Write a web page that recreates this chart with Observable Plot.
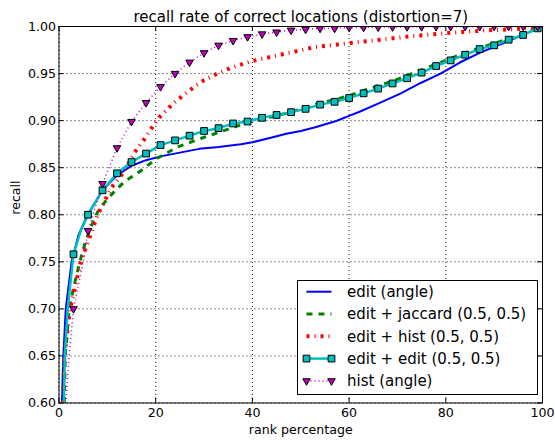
<!DOCTYPE html>
<html><head><meta charset="utf-8">
<script src="https://cdn.jsdelivr.net/npm/d3@7"></script>
<script src="https://cdn.jsdelivr.net/npm/@observablehq/plot@0.6"></script>
<style>
body{margin:0;background:#fff;}
#chart{width:555px;height:441px;}
</style></head><body><div id="chart"></div>
<script>
const title = "recall rate of correct locations (distortion=7)";
const xLabel = "rank percentage";
const yLabel = "recall";
const xTicks = [0, 20, 40, 60, 80, 100];
const yTicks = [0.60, 0.65, 0.70, 0.75, 0.80, 0.85, 0.90, 0.95, 1.00];

const seriesNames = ["edit (angle)", "edit + jaccard (0.5, 0.5)", "edit + hist (0.5, 0.5)", "edit + edit (0.5, 0.5)", "hist (angle)"];

const editAngleX = [0.6, 0.9, 1.4, 2.6, 4, 5.9, 9, 12, 15, 18, 21, 25, 29, 33, 37.6, 40, 44, 47, 50, 53, 57, 58.5, 60, 62.4, 66, 70.7, 74.8, 78.9, 83, 87, 91.3, 95.5, 100];
const editAngleY = [0.600, 0.650, 0.700, 0.750, 0.778, 0.800, 0.826, 0.842, 0.852, 0.858, 0.862, 0.866, 0.870, 0.872, 0.875, 0.877, 0.882, 0.886, 0.889, 0.893, 0.899, 0.902, 0.905, 0.910, 0.918, 0.929, 0.940, 0.950, 0.962, 0.972, 0.981, 0.990, 1.000];

const jaccardX = [1.1, 1.3, 2.1, 3, 4.3, 5.5, 7, 8, 10, 13.5, 17, 20, 24.5, 29.3, 35, 39.7, 44, 48, 51, 54, 57.6, 60.3, 63, 66, 69, 72, 75, 78, 81, 84, 87, 90, 93, 96, 100];
const jaccardY = [0.600, 0.650, 0.700, 0.722, 0.750, 0.772, 0.792, 0.803, 0.817, 0.835, 0.847, 0.859, 0.872, 0.881, 0.891, 0.899, 0.904, 0.909, 0.914, 0.9186, 0.923, 0.927, 0.932, 0.937, 0.942, 0.948, 0.954, 0.960, 0.966, 0.972, 0.977, 0.982, 0.987, 0.992, 1.000];

const histMixX = [0.8, 1.1, 2.3, 4.5, 8, 9.5, 10.7, 13.5, 15.6, 17.6, 19.4, 21, 23.8, 26, 28, 30, 32.8, 35.5, 39.7, 44.5, 47.6, 52.7, 59.5, 66.5, 73.4, 80.3, 88.6, 94, 98.2, 100];
const histMixY = [0.600, 0.650, 0.700, 0.750, 0.800, 0.815, 0.828, 0.846, 0.866, 0.880, 0.894, 0.905, 0.919, 0.928, 0.936, 0.943, 0.950, 0.956, 0.963, 0.9685, 0.972, 0.978, 0.982, 0.986, 0.990, 0.993, 0.996, 0.997, 0.999, 1.000];

const editEditX = [1.0, 1.2, 1.8, 3, 4.5, 6, 9, 12, 15, 18, 21, 24, 27, 30, 33, 36, 39, 42, 45, 48, 51, 54, 57, 60, 63, 66, 69, 72, 75, 78, 81, 84, 87, 90, 93, 96, 99, 100];
const editEditY = [0.600, 0.650, 0.700, 0.758, 0.783, 0.800, 0.826, 0.844, 0.856, 0.865, 0.874, 0.879, 0.884, 0.889, 0.892, 0.897, 0.899, 0.903, 0.906, 0.909, 0.9125, 0.917, 0.920, 0.924, 0.929, 0.934, 0.9395, 0.945, 0.951, 0.958, 0.964, 0.970, 0.976, 0.980, 0.986, 0.991, 0.998, 1.000];

const histAngleX = [1.4, 2.1, 3, 5, 6, 9, 12, 15, 18, 21, 24, 27, 30, 33, 36, 39, 42, 45, 48, 51, 54, 57, 60, 63, 66, 69, 72, 75, 78, 81, 84, 87, 90, 93, 96, 99, 100];
const histAngleY = [0.600, 0.650, 0.700, 0.750, 0.783, 0.833, 0.871, 0.899, 0.919, 0.936, 0.950, 0.962, 0.972, 0.980, 0.985, 0.989, 0.992, 0.994, 0.996, 0.997, 0.998, 0.998, 0.999, 0.999, 0.9993, 0.9995, 0.9996, 0.9997, 0.9998, 0.9998, 0.9999, 0.9999, 1.000, 1.000, 1.000, 1.000, 1.000];

// styles (not data)
const styles = [
  {stroke: "#0000ff", strokeWidth: 2, dash: null, marker: null},
  {stroke: "#008000", strokeWidth: 3, dash: "6,6", marker: null},
  {stroke: "#ff0000", strokeWidth: 4, dash: "3,5,1,5", marker: null},
  {stroke: "#00bfbf", strokeWidth: 2.5, dash: null, marker: "square"},
  {stroke: "#bf00bf", strokeWidth: 1.5, dash: "1,3", marker: "triangle"}
];
const markerR = {square: 3.8, triangle: 2.8};
const xs = [editAngleX, jaccardX, histMixX, editEditX, histAngleX];
const ys = [editAngleY, jaccardY, histMixY, editEditY, histAngleY];
const rowsBySeries = seriesNames.map((name, k) => xs[k].map((x, i) => ({series: name, x, y: ys[k][i]})));

const W = 555, H = 441;
const mL = 58.5, mR = 13, mT = 26, mB = 38.5;
const plotH = H - mT - mB, plotW = W - mL - mR;
const tick = 5;

const marks = [
  Plot.gridX(xTicks, {stroke: "#000", strokeOpacity: 0.9, strokeDasharray: "1,3", strokeWidth: 1}),
  Plot.gridY(yTicks, {stroke: "#000", strokeOpacity: 0.9, strokeDasharray: "1,3", strokeWidth: 1}),
  // inward ticks on all sides
  Plot.ruleX(xTicks, {x: d => d, insetTop: plotH - tick, stroke: "#000"}),
  Plot.ruleX(xTicks, {x: d => d, insetBottom: plotH - tick, stroke: "#000"}),
  Plot.ruleY(yTicks, {y: d => d, insetRight: plotW - tick, stroke: "#000"}),
  Plot.ruleY(yTicks, {y: d => d, insetLeft: plotW - tick, stroke: "#000"}),
];
rowsBySeries.forEach((rows, k) => {
  const s = styles[k];
  marks.push(Plot.line(rows, {x: "x", y: "y", stroke: s.stroke, strokeWidth: s.strokeWidth, strokeDasharray: s.dash, strokeLinecap: "butt", clip: true}));
});
rowsBySeries.forEach((rows, k) => {
  const s = styles[k];
  if (!s.marker) return;
  const pts = rows.filter(d => d.x > 0 && d.x % 3 === 0);
  marks.push(Plot.dot(pts, {x: "x", y: "y", symbol: s.marker, r: markerR[s.marker],
    rotate: s.marker === "triangle" ? 180 : 0, fill: s.stroke, stroke: "#000", strokeWidth: 1, clip: true}));
});
marks.push(
  Plot.frame({stroke: "#000", strokeWidth: 1}),
  Plot.axisX(xTicks, {anchor: "bottom", tickSize: 0, tickPadding: 5, label: null, fontSize: 12.6}),
  Plot.axisY(yTicks, {anchor: "left", tickSize: 0, tickPadding: 3, tickFormat: d3.format(".2f"), label: null, fontSize: 12.6}),
  Plot.text([title], {frameAnchor: "top", dy: -5, lineAnchor: "bottom", fontSize: 15, fill: "#000"}),
  Plot.text([xLabel], {frameAnchor: "bottom", dy: 27, lineAnchor: "middle", fontSize: 12.6, fill: "#000"}),
  Plot.text([yLabel], {frameAnchor: "left", dx: -43, rotate: -90, fontSize: 12.6, fill: "#000"})
);

const chart = Plot.plot({
  width: W, height: H,
  marginLeft: mL, marginRight: mR, marginTop: mT, marginBottom: mB,
  x: {domain: [0, 100]},
  y: {domain: [0.6, 1.0]},
  style: {fontFamily: "DejaVu Sans", fontSize: "12.6px", color: "#000", background: "#fff"},
  marks
});

// legend
const svg = d3.select(chart);
const lg = svg.append("g").attr("font-family", "DejaVu Sans").attr("font-size", 15).attr("text-anchor", "start");
const bx = 297.5, by = 280.5, bw = 240, bh = 114;
lg.append("rect").attr("x", bx).attr("y", by).attr("width", bw).attr("height", bh).attr("fill", "#fff").attr("stroke", "#000").attr("stroke-width", 1);
seriesNames.forEach((name, k) => {
  const s = styles[k];
  const yy = 291.7 + k * 22.3;
  lg.append("line").attr("x1", 306.5).attr("x2", 331.5).attr("y1", yy).attr("y2", yy)
    .attr("stroke", s.stroke).attr("stroke-width", s.strokeWidth).attr("stroke-dasharray", s.dash);
  if (s.marker) {
    [306.5, 331.5].forEach(mx => {
      const r = markerR[s.marker];
      const path = s.marker === "square"
        ? d3.symbol(d3.symbolSquare, Math.PI * r * r)()
        : d3.symbol(d3.symbolTriangle, Math.PI * r * r)();
      lg.append("path").attr("d", path)
        .attr("transform", `translate(${mx},${yy})` + (s.marker === "triangle" ? " rotate(180)" : ""))
        .attr("fill", s.stroke).attr("stroke", "#000").attr("stroke-width", 1);
    });
  }
  lg.append("text").attr("x", 347).attr("y", yy).attr("dy", "0.35em").attr("text-anchor", "start").attr("fill", "#000").text(name);
});

document.getElementById("chart").appendChild(chart);
</script>
</body></html>
